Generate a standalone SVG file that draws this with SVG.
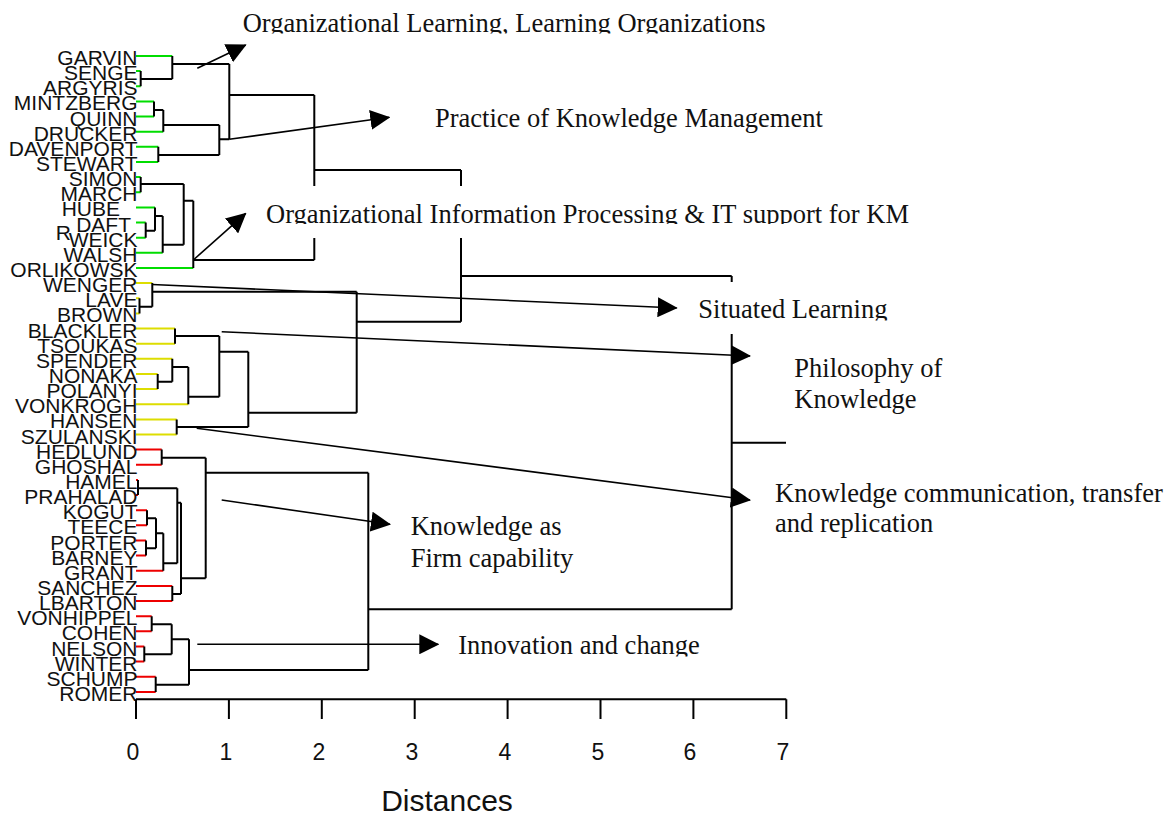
<svg xmlns="http://www.w3.org/2000/svg" width="1170" height="817" viewBox="0 0 1170 817">
<style>
.lf{font-family:"Liberation Sans",Arial,sans-serif;font-size:21px;fill:#111;text-anchor:end}
.lb{font-family:"Liberation Serif","Times New Roman",serif;font-size:26.5px;fill:#111}
.ax{font-family:"Liberation Sans",Arial,sans-serif;font-size:23px;fill:#111;text-anchor:middle}
.k{stroke:#000;stroke-width:2;fill:none}
.gr{stroke:#00dd00;stroke-width:2;fill:none}
.ye{stroke:#dddd00;stroke-width:2;fill:none}
.rd{stroke:#ee0000;stroke-width:2;fill:none}
.ar{stroke:#000;stroke-width:1.6;fill:none;marker-end:url(#ah)}
</style>
<defs>
<marker id="ah" viewBox="0 0 20 20" markerUnits="userSpaceOnUse" markerWidth="20" markerHeight="20" refX="19" refY="10" orient="auto">
<path d="M0,0 L20,10 L0,20 Z" fill="#000"/>
</marker>
<clipPath id="c1"><rect x="230" y="0" width="600" height="33.5"/></clipPath>
<clipPath id="c2"><rect x="425" y="95" width="420" height="129"/></clipPath>
<clipPath id="c3"><rect x="255" y="186" width="680" height="38"/></clipPath>
<clipPath id="c4"><rect x="690" y="282" width="220" height="38.5"/></clipPath>
<clipPath id="c5"><rect x="450" y="625" width="270" height="31.5"/></clipPath>
</defs>
<rect width="1170" height="817" fill="#fff"/>

<g id="connectors">
<g id="leaf-stubs">
<path class="gr" d="M136,56H172.3M136,71.1H140.7M136,86.3H140.7M136,101.4H154M136,116.6H154M136,131.7H163.3M136,146.8H158.3M136,162H158.3M136,177.1H140.7M136,192.3H140.7M136,207.4H155M136,222.5H145.7M136,237.7H145.7M136,252.8H162.7M136,268H193.3"/>
<path class="ye" d="M136,283.1H152.3M136,298.2H139.5M136,313.4H139.5M136,328.5H175M136,343.7H175M136,358.8H172.3M136,373.9H157.7M136,389.1H157.7M136,404.2H188.3M136,419.4H176.7M136,434.5H176.7"/>
<path class="rd" d="M136,449.6H161.7M136,464.8H161.7M136,479.9H138M136,495.1H138M136,510.2H147M136,525.3H147M136,540.5H146M136,555.6H146M136,570.8H163.3M136,585.9H172.3M136,601H172.3M136,616.2H151.7M136,631.3H151.7M136,646.5H144.3M136,661.6H144.3M136,676.7H155.7M136,691.9H155.7"/>
</g>
<g id="tree">
<path class="k" d="M140.7,71.1V86.3M140.7,79H172.3M172.3,56V79M172.3,64H229.3M154,101.4V116.6M154,110H163.3M163.3,110V131.7M163.3,125H219.3M158.3,146.8V162M158.3,155H219.3M219.3,125V155M219.3,139.3H229.3M229.3,64V139.3M229.3,95H314.3"/>
<path class="k" d="M140.7,177.1V192.3M140.7,184H183.7M145.7,222.5V237.7M145.7,230.7H155M155,207.4V230.7M155,216H162.7M162.7,216V252.8M162.7,244.7H183.7M183.7,184V244.7M183.7,200.7H193.3M193.3,200.7V268M193.3,260H314.3"/>
<path class="k" d="M314.3,95V260M314.3,170H461"/>
<path class="k" d="M139.5,298.2V313.4M139.5,306.7H152.3M152.3,283.1V306.7M152.3,291.7H356.7M175,328.5V343.7M175,336H219.3M157.7,373.9V389.1M157.7,381.7H172.3M172.3,358.8V381.7M172.3,367H188.3M188.3,367V404.2M188.3,396.7H219.3M219.3,336V396.7M219.3,351.7H248.3M176.7,419.4V434.5M176.7,427H248.3M248.3,351.7V427M248.3,412.7H356.7M356.7,291.7V412.7M356.7,321.7H461M461,170V321.7M461,276H731.7"/>
<path class="k" d="M161.7,449.6V464.8M161.7,457.7H205.7M138,479.9V495.1M138,488.3H177.3M147,510.2V525.3M147,518.3H156M146,540.5V555.6M146,548.3H156M156,518.3V548.3M156,533.3H163.3M163.3,533.3V570.8M163.3,563.3H177.3M177.3,488.3V563.3M177.3,502.7H181M172.3,585.9V601M172.3,594H181M181,502.7V594M181,578.3H205.7M205.7,457.7V578.3M205.7,472.7H368.3"/>
<path class="k" d="M151.7,616.2V631.3M151.7,624.3H171.7M144.3,646.5V661.6M144.3,654.3H171.7M171.7,624.3V654.3M171.7,639.3H189M155.7,676.7V691.9M155.7,684.7H189M189,639.3V684.7M189,670H368.3M368.3,472.7V670M368.3,609.3H731.7M731.7,276V609.3M731.7,442.7H786"/>
</g>
<g id="arrows">
<line class="ar" x1="197.3" y1="68.3" x2="245.7" y2="45"/>
<line class="ar" x1="229.3" y1="139.3" x2="389.3" y2="117.3"/>
<line class="ar" x1="193.3" y1="260" x2="245.7" y2="213.3"/>
<line class="ar" x1="152.3" y1="284.5" x2="676.7" y2="308"/>
<line class="ar" x1="221.7" y1="331.7" x2="750" y2="356"/>
<line class="ar" x1="196.7" y1="428.3" x2="750" y2="500"/>
<line class="ar" x1="221.7" y1="500" x2="390" y2="524.3"/>
<line class="ar" x1="197.3" y1="644.3" x2="438.3" y2="644.3"/>
</g>
</g>

<g id="leaves">
<g id="n-garvin"><text class="lf" x="137.5" y="65">GARVIN</text></g>
<g id="n-senge"><text class="lf" x="137.5" y="80.1">SENGE</text></g>
<g id="n-argyris"><text class="lf" x="137.5" y="95.3">ARGYRIS</text></g>
<g id="n-mintzberg"><text class="lf" x="137.5" y="110.4">MINTZBERG</text></g>
<g id="n-quinn"><text class="lf" x="137.5" y="125.6">QUINN</text></g>
<g id="n-drucker"><text class="lf" x="137.5" y="140.7">DRUCKER</text></g>
<g id="n-davenport"><text class="lf" x="137.5" y="155.8">DAVENPORT</text></g>
<g id="n-stewart"><text class="lf" x="137.5" y="171">STEWART</text></g>
<g id="n-simon"><text class="lf" x="137.5" y="186.1">SIMON</text></g>
<g id="n-march"><text class="lf" x="137.5" y="201.3">MARCH</text></g>
<g id="n-hube"><text class="lf" x="120" y="216.4">HUBE</text></g>
<g id="n-daft"><text class="lf" x="131" y="231.5">DAFT</text></g>
<g id="n-r"><text class="lf" x="71" y="240">R</text></g>
<g id="n-weick"><text class="lf" x="137.5" y="246.7">WEICK</text></g>
<g id="n-walsh"><text class="lf" x="137.5" y="261.8">WALSH</text></g>
<g id="n-orlikowsk"><text class="lf" x="137.5" y="277">ORLIKOWSK</text></g>
<g id="n-wenger"><text class="lf" x="137.5" y="292.1">WENGER</text></g>
<g id="n-lave"><text class="lf" x="137.5" y="307.2">LAVE</text></g>
<g id="n-brown"><text class="lf" x="137.5" y="322.4">BROWN</text></g>
<g id="n-blackler"><text class="lf" x="137.5" y="337.5">BLACKLER</text></g>
<g id="n-tsoukas"><text class="lf" x="137.5" y="352.7">TSOUKAS</text></g>
<g id="n-spender"><text class="lf" x="137.5" y="367.8">SPENDER</text></g>
<g id="n-nonaka"><text class="lf" x="137.5" y="382.9">NONAKA</text></g>
<g id="n-polanyi"><text class="lf" x="137.5" y="398.1">POLANYI</text></g>
<g id="n-vonkrogh"><text class="lf" x="137.5" y="413.2">VONKROGH</text></g>
<g id="n-hansen"><text class="lf" x="137.5" y="428.4">HANSEN</text></g>
<g id="n-szulanski"><text class="lf" x="137.5" y="443.5">SZULANSKI</text></g>
<g id="n-hedlund"><text class="lf" x="137.5" y="458.6">HEDLUND</text></g>
<g id="n-ghoshal"><text class="lf" x="137.5" y="473.8">GHOSHAL</text></g>
<g id="n-hamel"><text class="lf" x="137.5" y="488.9">HAMEL</text></g>
<g id="n-prahalad"><text class="lf" x="137.5" y="504.1">PRAHALAD</text></g>
<g id="n-kogut"><text class="lf" x="137.5" y="519.2">KOGUT</text></g>
<g id="n-teece"><text class="lf" x="137.5" y="534.3">TEECE</text></g>
<g id="n-porter"><text class="lf" x="137.5" y="549.5">PORTER</text></g>
<g id="n-barney"><text class="lf" x="137.5" y="564.6">BARNEY</text></g>
<g id="n-grant"><text class="lf" x="137.5" y="579.8">GRANT</text></g>
<g id="n-sanchez"><text class="lf" x="137.5" y="594.9">SANCHEZ</text></g>
<g id="n-lbarton"><text class="lf" x="137.5" y="610">LBARTON</text></g>
<g id="n-vonhippel"><text class="lf" x="137.5" y="625.2">VONHIPPEL</text></g>
<g id="n-cohen"><text class="lf" x="137.5" y="640.3">COHEN</text></g>
<g id="n-nelson"><text class="lf" x="137.5" y="655.5">NELSON</text></g>
<g id="n-winter"><text class="lf" x="137.5" y="670.6">WINTER</text></g>
<g id="n-schump"><text class="lf" x="137.5" y="685.7">SCHUMP</text></g>
<g id="n-romer"><text class="lf" x="137.5" y="700.9">ROMER</text></g>
</g>

<g id="labels">
<g id="l-orglearning"><text class="lb" x="242.7" y="31.7" clip-path="url(#c1)">Organizational Learning, Learning Organizations</text></g>
<g id="l-practice"><text class="lb" x="435" y="127.3" clip-path="url(#c2)">Practice of Knowledge Management</text></g>
<g id="l-orginfo"><rect x="255" y="186" width="675" height="52" fill="#fff"/><text class="lb" x="266" y="222.7" clip-path="url(#c3)">Organizational Information Processing &amp; IT support for KM</text></g>
<g id="l-situated"><rect x="690" y="282" width="210" height="52" fill="#fff"/><text class="lb" x="698.3" y="318.3" clip-path="url(#c4)">Situated Learning</text></g>
<g id="l-philosophy"><text class="lb" x="794.3" y="377.3">Philosophy of</text><text class="lb" x="794.3" y="408.3">Knowledge</text></g>
<g id="l-transfer"><text class="lb" x="775" y="501.7">Knowledge communication, transfer</text><text class="lb" x="775" y="531.7">and replication</text></g>
<g id="l-firm"><text class="lb" x="410.7" y="535">Knowledge as</text><text class="lb" x="410.7" y="566.7">Firm capability</text></g>
<g id="l-innovation"><text class="lb" x="458.3" y="654" clip-path="url(#c5)">Innovation and change</text></g>
</g>

<g id="axis">
<path class="k" d="M136,699.3H786.3M136,699.3V719M228.9,699.3V719M321.8,699.3V719M414.7,699.3V719M507.6,699.3V719M600.5,699.3V719M693.4,699.3V719M786.3,699.3V719"/>
<text class="ax" x="133" y="760">0</text>
<text class="ax" x="226" y="760">1</text>
<text class="ax" x="319" y="760">2</text>
<text class="ax" x="412" y="760">3</text>
<text class="ax" x="505" y="760">4</text>
<text class="ax" x="598" y="760">5</text>
<text class="ax" x="690" y="760">6</text>
<text class="ax" x="783" y="760">7</text>
<text x="447" y="811" style="font-family:'Liberation Sans',Arial,sans-serif;font-size:30px;fill:#111;text-anchor:middle">Distances</text>
</g>
</svg>
